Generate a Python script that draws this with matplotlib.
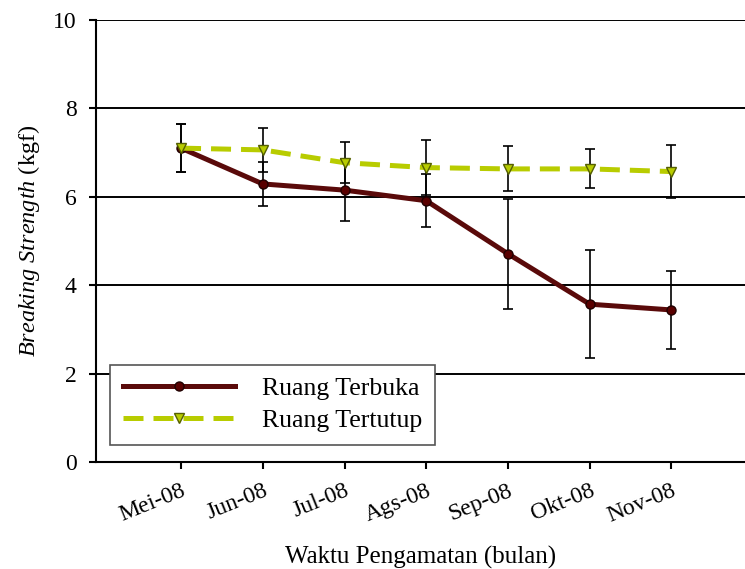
"""
Breaking strength, ruang terbuka vs ruang tertutup
"""
import numpy as np
import matplotlib.pyplot as plt

plt.rcParams['font.family'] = ['Liberation Serif', 'DejaVu Serif']
plt.rcParams['mathtext.fontset'] = 'custom'
plt.rcParams['mathtext.rm'] = 'Liberation Serif'
plt.rcParams['mathtext.it'] = 'Liberation Serif:italic'

bulan = ['Mei-08', 'Jun-08', 'Jul-08', 'Ags-08', 'Sep-08', 'Okt-08', 'Nov-08']
terbuka = [7.10, 6.29, 6.15, 5.91, 4.71, 3.57, 3.44]
terbuka_err = [0.55, 0.50, 0.70, 0.60, 1.25, 1.22, 0.88]
tertutup = [7.10, 7.06, 6.77, 6.66, 6.63, 6.63, 6.57]
tertutup_err = [0.55, 0.50, 0.47, 0.62, 0.51, 0.44, 0.60]

x = np.arange(len(bulan))

fig = plt.figure(figsize=(7.45, 5.69), dpi=100)
ax = fig.add_axes([0.1289, 0.188, 0.8711, 0.777])

ax.errorbar(x, terbuka, yerr=terbuka_err, fmt='none', ecolor='black',
            elinewidth=1.2, capsize=3.6, capthick=1.2, zorder=3)
ax.errorbar(x, tertutup, yerr=tertutup_err, fmt='none', ecolor='black',
            elinewidth=1.2, capsize=3.6, capthick=1.2, zorder=3)

ax.plot(x, terbuka, color='#5a0a0a', lw=3.6, marker='o', ms=6.5,
        mfc='#5a0000', mec='#200000', label='Ruang Terbuka', zorder=4)
ax.plot(x, tertutup, color='#b8cc00', lw=3.6, ls=(0, (4, 2)), marker='v', ms=6.5,
        mfc='#b8cc00', mec='#556000', label='Ruang Tertutup', zorder=4)

ax.set_xlim(-1.04, 6.9)
ax.set_ylim(0, 10)
ax.set_yticks([0, 2, 4, 6, 8, 10])
ax.set_xticks(x)
ax.set_xticklabels(bulan, rotation=22, ha='right', rotation_mode='anchor')
ax.tick_params(axis='both', labelsize=17, width=1.5, length=5, direction='out')
ax.tick_params(axis='x', pad=8)
ax.tick_params(axis='y', pad=9)

for yv in [2, 4, 6, 8, 10]:
    ax.axhline(yv, color='black', lw=1.4, zorder=1)

ax.spines['top'].set_visible(False)
ax.spines['right'].set_visible(False)
ax.spines['left'].set_linewidth(1.5)
ax.spines['bottom'].set_linewidth(1.5)

ax.set_ylabel(r'$\it{Breaking\ Strength}$ (kgf)', fontsize=17.5, labelpad=8)
ax.set_xlabel('Waktu Pengamatan (bulan)', fontsize=18, labelpad=14)

leg = ax.legend(loc='lower left', bbox_to_anchor=(0.0216, 0.038), fontsize=18.5,
                frameon=True, fancybox=False, framealpha=1, edgecolor='#555555',
                handlelength=4.35, handletextpad=1.05, borderpad=0.5,
                labelspacing=0.35, borderaxespad=0)
leg.get_frame().set_linewidth(1.2)
leg.set_zorder(5)

plt.savefig('out.png', dpi=100)
